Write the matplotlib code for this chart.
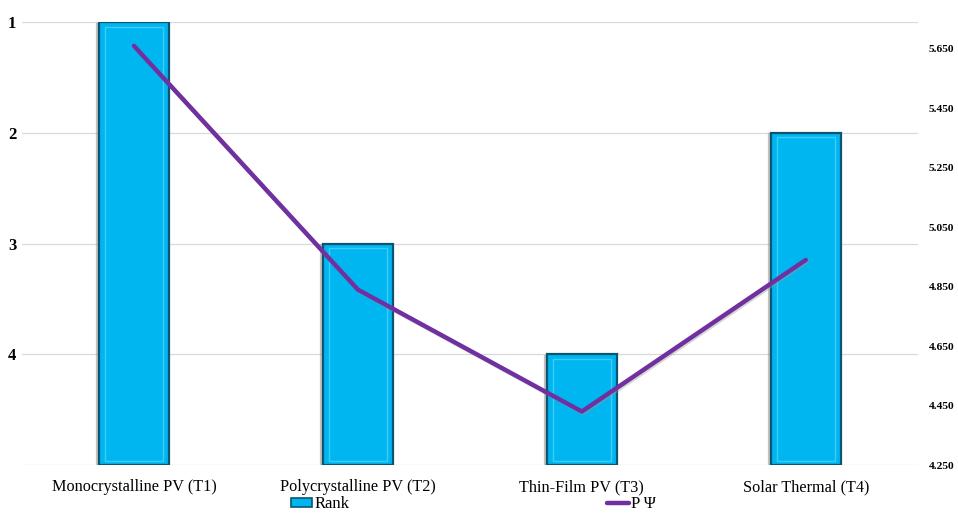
import matplotlib
matplotlib.use("Agg")
import matplotlib.pyplot as plt
import matplotlib.patheffects as pe
from matplotlib.lines import Line2D
from matplotlib.patches import Patch

categories = ["Monocrystalline PV (T1)", "Polycrystalline PV (T2)",
              "Thin-Film PV (T3)", "Solar Thermal (T4)"]
rank = [1, 3, 4, 2]
p_psi = [5.66, 4.84, 4.43, 4.94]
rank_ticks = [1, 2, 3, 4]
psi_ticks = [4.25, 4.45, 4.65, 4.85, 5.05, 5.25, 5.45, 5.65]

plt.rcParams["font.family"] = ["Liberation Serif", "DejaVu Serif"]

fig = plt.figure(figsize=(9.58, 5.15), dpi=100)
ax = fig.add_axes([0.023, 0.097, 0.935, 0.86])
ax2 = ax.twinx()

x = list(range(len(categories)))
base = 5
bar_color = "#00B6F0"
heights = [r - base for r in rank]
ax.bar(x, heights, bottom=base, width=0.31, color=bar_color,
       edgecolor="#0B5570", linewidth=1.6, zorder=2,
       path_effects=[pe.SimpleLineShadow(offset=(-1.5, -1), shadow_color="#888888", alpha=0.5),
                     pe.Normal()])
# inner bevel highlight
ax.bar(x, [h + 0.08 for h in heights], bottom=base - 0.04, width=0.26,
       color="none", edgecolor="#3CCBFA", linewidth=1.0, zorder=3)

ax.set_ylim(5, 1)
ax.set_xlim(-0.5, len(categories) - 0.5)
ax.set_yticks(rank_ticks + [5])
ax.set_yticklabels([str(t) for t in rank_ticks] + [""], fontweight="bold", fontsize=12)
ax.grid(axis="y", color="#D9D9D9", linewidth=0.9, zorder=0)
ax.set_axisbelow(True)
ax.set_xticks(x)
ax.set_xticklabels(categories, fontsize=11.7)
ax.tick_params(axis="x", length=0, pad=10)
ax.tick_params(axis="y", length=0, pad=4)
for s in ax.spines.values():
    s.set_visible(False)

line_color = "#7030A0"
ax2.plot(x, p_psi, color=line_color, linewidth=3.2, solid_capstyle="round", zorder=4,
         path_effects=[pe.SimpleLineShadow(offset=(1, -1), shadow_color="#999999", alpha=0.4),
                       pe.Normal()])
ax2.set_ylim(4.25, 5.74)
ax2.set_yticks(psi_ticks)
ax2.set_yticklabels([f"{t:.3f}" for t in psi_ticks], fontweight="bold", fontsize=8.2)
ax2.tick_params(axis="y", length=0, pad=8)
for s in ax2.spines.values():
    s.set_visible(False)

handles = [Patch(facecolor=bar_color, edgecolor="#0B5570", linewidth=1.2),
           Line2D([0], [0], color=line_color, linewidth=3.2, solid_capstyle="round")]
fig.legend(handles, ["Rank", "P Ψ"], loc="lower center", ncol=2,
           bbox_to_anchor=(0.494, -0.024), frameon=False, fontsize=12,
           columnspacing=15.5, handlelength=1.3, handletextpad=0.1, handleheight=0.5)

fig.savefig("out.png", dpi=100)
